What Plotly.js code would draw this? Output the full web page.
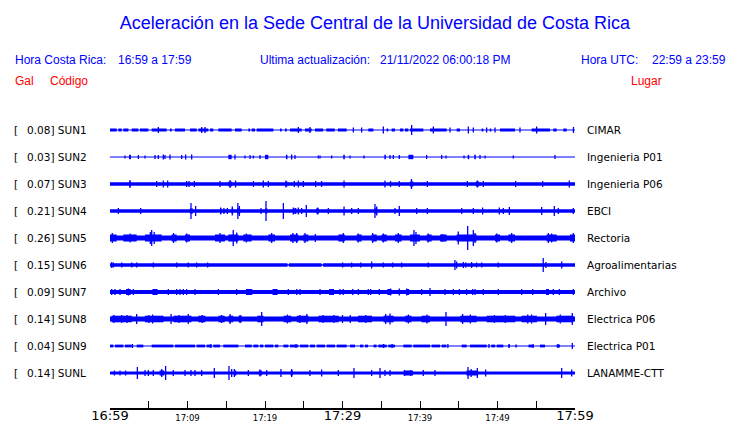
<!DOCTYPE html>
<html><head><meta charset="utf-8">
<script src="https://cdn.plot.ly/plotly-3.0.1.min.js"></script>
<style>html,body{margin:0;padding:0;background:#fff}</style>
</head><body><div id="chart" style="width:740px;height:423px"></div>
<script>
// ---------------- data ----------------
const codes  = ['SUN1','SUN2','SUN3','SUN4','SUN5','SUN6','SUN7','SUN8','SUN9','SUNL'];
const places = ['CIMAR','Ingenieria P01','Ingenieria P06','EBCI','Rectoria','Agroalimentarias','Archivo','Electrica P06','Electrica P01','LANAMME-CTT'];
const peakGal = [0.08,0.03,0.07,0.21,0.26,0.15,0.09,0.14,0.04,0.14];
// minutes after 16:59
const tickMinutes = [0,5,10,15,20,25,30,35,40,45,50,55,60];
const tickLabelsSmall = ['','','17:09','','17:19','','','','17:39','','17:49','',''];
const majorMinutes = [0,30,60];
const majorLabels = ['16:59','17:29','17:59'];
// half-amplitudes of the background level and of noise bursts (display units)
const floorAmp = [0.6,0.5,1.7,1.8,2.6,0.8,2.0,2.5,0.6,1.5];
const burstAmp = [1.5,2.2,2.5,2.6,3.5,1.7,3.0,3.3,1.4,2.5];

const sun1Bursts = [[0,0.86],[1.08,1.51],[1.72,2.37],[2.8,3.66],[3.87,4.95],[5.38,7.31],[7.74,7.96],[8.39,9.68],[10.32,11.18],[11.4,12.69],[12.9,13.33],[13.98,15.7],[16.13,16.99],[17.85,18.07],[18.28,18.71],[18.93,21.08],[21.94,22.15],[22.58,22.8],[23.23,24.73],[25.16,26.02],[26.45,27.5],[27.9,29.0],[29.4,30.54],[33.33,33.98],[35.7,35.9],[36.34,36.77],[37.42,37.85],[38.06,38.5],[38.71,40.43],[41.29,43.44],[44.73,45.16],[47.96,48.17],[49.0,49.2],[50.32,52.26],[54.4,56.77],[57.2,57.63],[58.49,58.92]];
const sun1Spikes = [[6.24,3],[11.83,3],[12.26,3],[24.3,3],[25.8,3],[31.4,2.5],[32.47,2.5],[35.27,3.5],[38.92,5],[41.72,3.5],[43.87,2.5],[46.24,3.5],[46.88,2.5],[48.6,2.5],[49.68,2.5],[52.9,2.5],[55.05,3.5],[59.8,3]];

const sun2Bursts = [[2.45,2.7],[15.27,15.7],[20.0,20.43],[22.7,22.9],[30.1,30.3],[35.4,35.6],[38.5,39.14],[46.15,46.35],[47.0,47.2]];
const sun2Spikes = [[1.94,1.5],[3.66,2],[4.52,1.5],[5.81,2],[6.24,2],[6.88,2.5],[7.1,2],[7.74,2.5],[9.25,2],[9.76,2.5],[10.54,2.5],[16.13,2.5],[17.42,1.5],[18.07,2],[18.5,1.5],[19.35,2],[23.44,2.5],[23.87,2],[26.88,1.5],[27.1,1.5],[28.6,1.5],[30.97,1.5],[32.77,1.5],[36.13,2],[36.56,2],[37.33,2],[40.86,2],[42.8,2],[43.35,1.5],[45.68,1.5],[47.74,2],[48.39,1.5],[52.04,1.5],[57.42,2]];

const sun3Bursts = [[2.45,2.7],[15.27,15.7],[22.58,22.9],[38.71,39.14],[47.2,47.65]];
const sun3Spikes = [[2.58,4],[6.02,3],[6.88,3.5],[7.44,3.5],[9.89,3],[10.2,3],[10.88,3],[14.2,3],[15.5,4],[16.2,3.5],[18.5,3],[19.78,3.5],[20.43,3],[22.7,3.5],[23.78,3],[24.3,3.5],[24.95,3],[26.54,3],[27.3,3],[30.2,3.5],[35.48,3.5],[36.2,3],[37.33,3],[38.9,5],[40.95,3],[46.11,3],[47.4,3.5],[48.17,3],[52.34,3],[55.83,3],[59.27,3.5]];

const sun4Bursts = [[10.3,10.7],[14.2,14.4],[15.7,15.9],[16.4,16.8],[20.0,20.3],[23.6,24.0],[26.6,26.95],[34.1,34.5]];
const sun4Spikes = [[1.08,3],[3.96,3],[10.45,8],[11.05,5],[14.28,3.5],[14.7,3],[15.14,3],[15.78,4.5],[16.5,8],[16.69,5],[19.48,3],[20.13,10],[22.37,8],[23.65,3.5],[23.96,3],[24.3,3.5],[24.73,3],[25.33,6],[26.8,3.5],[28.17,3],[30.2,4.5],[31.18,3],[32.04,3],[34.19,7],[34.41,4.5],[36.77,3],[37.33,5],[39.57,3],[40.95,3],[45.38,3],[46.88,3],[48.08,3.5],[50.23,3.5],[50.75,3],[51.53,4],[55.7,4],[57.33,5],[57.85,3],[59.78,3]];

const sun5Bursts = [[0,0.86],[1.72,3.44],[4.52,6.67],[7.96,8.6],[9.68,10.32],[13.55,14.84],[15.27,16.56],[17.2,18.28],[20.43,21.29],[23.23,24.3],[24.95,25.59],[29.46,30.3],[31.83,32.47],[33.76,34.41],[35.05,35.7],[36.77,37.63],[38.71,40.0],[40.86,41.5],[42.58,43.44],[44.73,47.31],[49.68,50.32],[51.4,52.26],[56.34,57.63],[59.35,60]];
const sun5Spikes = [[0.3,5],[2.6,4.5],[5.2,6],[5.38,8],[5.7,6],[8.2,5],[9.9,4.5],[14.2,5],[15.9,8],[16.35,5.5],[17.6,4.5],[20.86,5],[23.6,5],[24.09,5],[25.16,5],[26.5,4],[30.1,5],[32.04,4.5],[33.89,5],[35.27,4.5],[37.2,5],[39.22,8],[39.48,6],[41.07,4.5],[42.9,4],[44.94,6.5],[46.15,12],[46.88,8],[47.1,5],[49.9,4.5],[51.83,5],[56.56,5],[56.99,4.5],[59.78,5]];

const sun6Bursts = [[0,22.9],[23.1,27.3],[27.5,60]];
const sun6Spikes = [[0.22,3],[0.43,2.5],[1.51,2.5],[2.8,2.5],[3.44,2.5],[5.59,2.5],[8.6,2.5],[10.1,2.5],[11.18,2.5],[12.6,2.5],[30.02,2.5],[31.18,2.5],[32.34,2.5],[33.76,3.5],[35.27,2.5],[36.46,2.5],[37.63,2.5],[41.07,2.5],[44.51,5],[44.72,3.5],[45.59,3],[45.9,2.5],[46.66,3],[47.3,2.5],[47.96,2.5],[50.1,2.5],[55.9,7],[56.24,3],[58.28,3.5]];

const sun7Bursts = [[2.1,2.6],[5.5,6.1],[17.6,18.3],[21.0,21.6],[28.3,28.9],[35.8,36.3],[38.2,38.6],[56.3,56.6]];
const sun7Spikes = [[0.22,3],[0.65,3],[1.29,3],[2.15,3],[2.37,3.5],[2.58,3],[3.01,3],[5.59,3],[5.81,3],[6.02,3],[7.53,3],[8.6,3],[9.03,3],[9.46,3],[9.89,3],[10.97,3],[13.98,3],[16.34,3],[17.63,3],[17.93,3],[18.28,3],[21.08,3],[21.5,3],[23.01,3],[24.09,3],[24.52,3],[27.1,3],[28.39,3],[28.82,3],[29.68,3],[30.1,3],[31.31,3],[32.04,3],[33.33,3],[33.63,3],[34.75,3],[35.91,3],[36.2,3.5],[37.33,3.5],[38.28,3.5],[38.5,3],[40.22,3],[41.29,4],[43.23,3],[44.3,3],[45.08,3],[46.02,3],[46.8,3],[47.1,3],[48.17,3],[50.1,3],[53.12,3],[54.54,3],[56.34,3],[56.56,3],[57.2,3],[57.98,3],[59.78,3]];

const sun8Bursts = [[0.2,2.8],[4.5,6.9],[8.2,10.5],[11.4,12.3],[14.0,14.8],[15.3,15.9],[16.6,17.0],[19.0,19.8],[22.4,23.4],[24.1,25.6],[26.9,29.5],[32.0,33.8],[35.3,36.6],[38.1,38.9],[40.2,41.3],[45.2,47.3],[48.6,52.3],[53.1,55.1],[57.6,59.8]];
const sun8Spikes = [[0.5,4],[1.5,4],[2.2,4],[3.44,5],[5.0,4],[5.5,4.5],[7.88,5],[8.9,4],[10.1,5],[11.9,4],[14.4,4],[15.5,5],[16.8,4],[19.57,7],[22.9,4.5],[24.5,4],[25.4,5],[27.5,4],[28.9,4],[30.0,4],[31.0,4],[33.0,4],[35.57,5],[36.13,5.5],[38.5,4.5],[40.9,4.5],[43.35,7],[45.5,5],[46.5,4.5],[49.6,4],[51.0,4],[53.9,4.5],[54.4,4.5],[56.21,6],[58.1,4.5],[59.65,6]];

const sun9Bursts = [[0,0.43],[0.65,1.72],[1.94,2.8],[3.44,4.3],[5.38,8.17],[8.39,10.97],[11.18,12.26],[12.47,13.12],[13.33,14.2],[14.62,16.56],[17.42,18.28],[18.5,19.14],[19.35,19.78],[20.0,21.08],[21.29,21.72],[22.37,23.01],[23.23,24.3],[24.52,25.59],[25.8,26.45],[26.67,27.74],[27.96,29.03],[29.25,30.54],[30.97,31.61],[32.26,32.69],[32.9,33.3],[34.0,34.4],[34.62,35.7],[35.91,36.77],[37.85,38.92],[39.14,41.29],[41.5,42.58],[42.8,43.4],[45.38,46.02],[46.45,48.6],[49.2,49.7],[49.9,50.75],[51.4,51.6],[52.3,52.5],[54.0,54.62],[55.48,56.13],[57.63,58.06]];
const sun9Spikes = [[2.9,2],[13.0,2],[24.0,2],[35.3,2],[36.4,2],[43.6,2],[48.9,2],[51.5,2],[54.6,2],[57.8,2],[59.65,3]];

const sunLBursts = [[6.4,7.0],[16.0,16.3],[19.2,19.6],[23.3,23.6],[37.9,39.1],[46.0,47.5]];
const sunLSpikes = [[0.56,2.5],[1.29,2.5],[2.02,2.5],[3.53,6],[4.52,3],[4.95,3],[5.59,3],[6.67,4],[7.18,7],[8.17,3],[9.68,3],[10.45,3],[10.97,3],[11.83,3],[13.46,5],[15.35,7],[15.7,4],[16.04,4],[17.85,3],[19.35,3.5],[20.22,3],[22.06,4],[23.44,4],[25.8,3],[27.31,3.5],[29.46,3],[31.48,5],[33.76,3],[34.84,5],[35.48,3],[36.13,3],[38.0,3],[38.8,3],[40.43,3],[41.93,3],[46.2,6],[46.6,4],[47.4,5],[48.47,3.5],[58.28,5],[59.57,3.5]];

const allBursts = [sun1Bursts,sun2Bursts,sun3Bursts,sun4Bursts,sun5Bursts,sun6Bursts,sun7Bursts,sun8Bursts,sun9Bursts,sunLBursts];
const allSpikes = [sun1Spikes,sun2Spikes,sun3Spikes,sun4Spikes,sun5Spikes,sun6Spikes,sun7Spikes,sun8Spikes,sun9Spikes,sunLSpikes];

// ---------------- drawing ----------------
const W = 740, H = 423;
const ROW = 27;              // px per channel row
const TOP = 130;             // px of first channel
const BLUE = '#0000ff';
const yTop = -TOP/ROW, yBot = (H-TOP)/ROW;

const traces = [];
codes.forEach((c,i)=>{
  traces.push({type:'scatter',mode:'lines',x:[0,60],y:[i,i],
    line:{color:BLUE,width:2*floorAmp[i]},hoverinfo:'skip',showlegend:false});
  const bx=[],by=[];
  allBursts[i].forEach(([a,b])=>{bx.push(a,b,null);by.push(i,i,null);});
  traces.push({type:'scatter',mode:'lines',x:bx,y:by,
    line:{color:BLUE,width:2*burstAmp[i]},hoverinfo:'skip',showlegend:false});
  const sx=[],sy=[];
  allSpikes[i].forEach(([t,a])=>{sx.push(t,t,null);sy.push(i-a/ROW,i+a/ROW,null);});
  traces.push({type:'scatter',mode:'lines',x:sx,y:sy,
    line:{color:BLUE,width:1.3},hoverinfo:'skip',showlegend:false});
});

const axisY = 408.5;   // px of the time axis line

const hdr = {family:'Liberation Sans, Arial, sans-serif',size:12,color:BLUE};
const red = {family:'Liberation Sans, Arial, sans-serif',size:12,color:'#ff0000'};
const lab = {family:'DejaVu Sans, sans-serif',size:10.5,color:'#000000'};
function ann(text,px,py,font,anchor){
  return {text:text,xref:'paper',yref:'paper',x:px/W,y:1-py/H,xanchor:anchor||'left',yanchor:'middle',
    showarrow:false,font:font,borderpad:0,borderwidth:0};
}
const annotations = [
  ann('Hora Costa Rica:',15,60,hdr),
  ann('16:59 a 17:59',118,60,hdr),
  ann('Ultima actualización:',260,60,hdr),
  ann('21/11/2022 06:00:18 PM',380,60,hdr),
  ann('Hora UTC:',581,60,hdr),
  ann('22:59 a 23:59',652,60,hdr),
  ann('Gal',15,81,red),
  ann('Código',50,81,red),
  ann('Lugar',631,81,red)
];
codes.forEach((c,i)=>{
  const py = TOP + ROW*i;
  annotations.push(ann('[',14,py,lab));
  annotations.push(ann(peakGal[i].toFixed(2)+'] '+c,27,py,lab));
  annotations.push(ann(places[i],587,py,lab));
});

const dom = [110/W, 575/W];
const layout = {
  width:W,height:H,margin:{l:0,r:0,t:0,b:0},
  paper_bgcolor:'#ffffff',plot_bgcolor:'#ffffff',showlegend:false,
  title:{text:'Aceleración en la Sede Central de la Universidad de Costa Rica',
    x:375/W,xanchor:'center',y:1-22.5/H,yanchor:'middle',yref:'container',
    font:{family:'Liberation Sans, Arial, sans-serif',size:18,color:BLUE}},
  xaxis:{range:[0,60],domain:dom,anchor:'free',position:(H-axisY)/H,automargin:false,
    showline:true,linecolor:'#000000',linewidth:1.2,ticks:'inside',ticklen:8,tickcolor:'#000',tickwidth:1,
    tickvals:tickMinutes,ticktext:tickLabelsSmall,showgrid:false,zeroline:false,fixedrange:true,
    tickfont:{family:'DejaVu Sans, sans-serif',size:8.5,color:'#000'},ticklabelstandoff:1},
  xaxis2:{range:[0,60],domain:dom,anchor:'free',position:(H-axisY+2.5)/H,overlaying:'x',automargin:false,
    showline:false,ticks:'',tickvals:majorMinutes,ticktext:majorLabels,showgrid:false,zeroline:false,
    tickfont:{family:'DejaVu Sans, sans-serif',size:13,color:'#000'},ticklabelstandoff:0},
  yaxis:{range:[yBot,yTop],domain:[0,1],visible:false,fixedrange:true},
  shapes:[{type:'line',xref:'paper',yref:'paper',x0:dom[0],x1:dom[1],y0:(H-axisY)/H,y1:(H-axisY)/H,
    line:{color:'#000000',width:1.2},layer:'above'}],
  annotations:annotations
};
// invisible point so that xaxis2 is drawn
traces.push({type:'scatter',mode:'markers',x:[0],y:[0],xaxis:'x2',marker:{opacity:0},hoverinfo:'skip',showlegend:false});
Plotly.newPlot('chart',traces,layout,{staticPlot:true,displayModeBar:false});
</script></body></html>
